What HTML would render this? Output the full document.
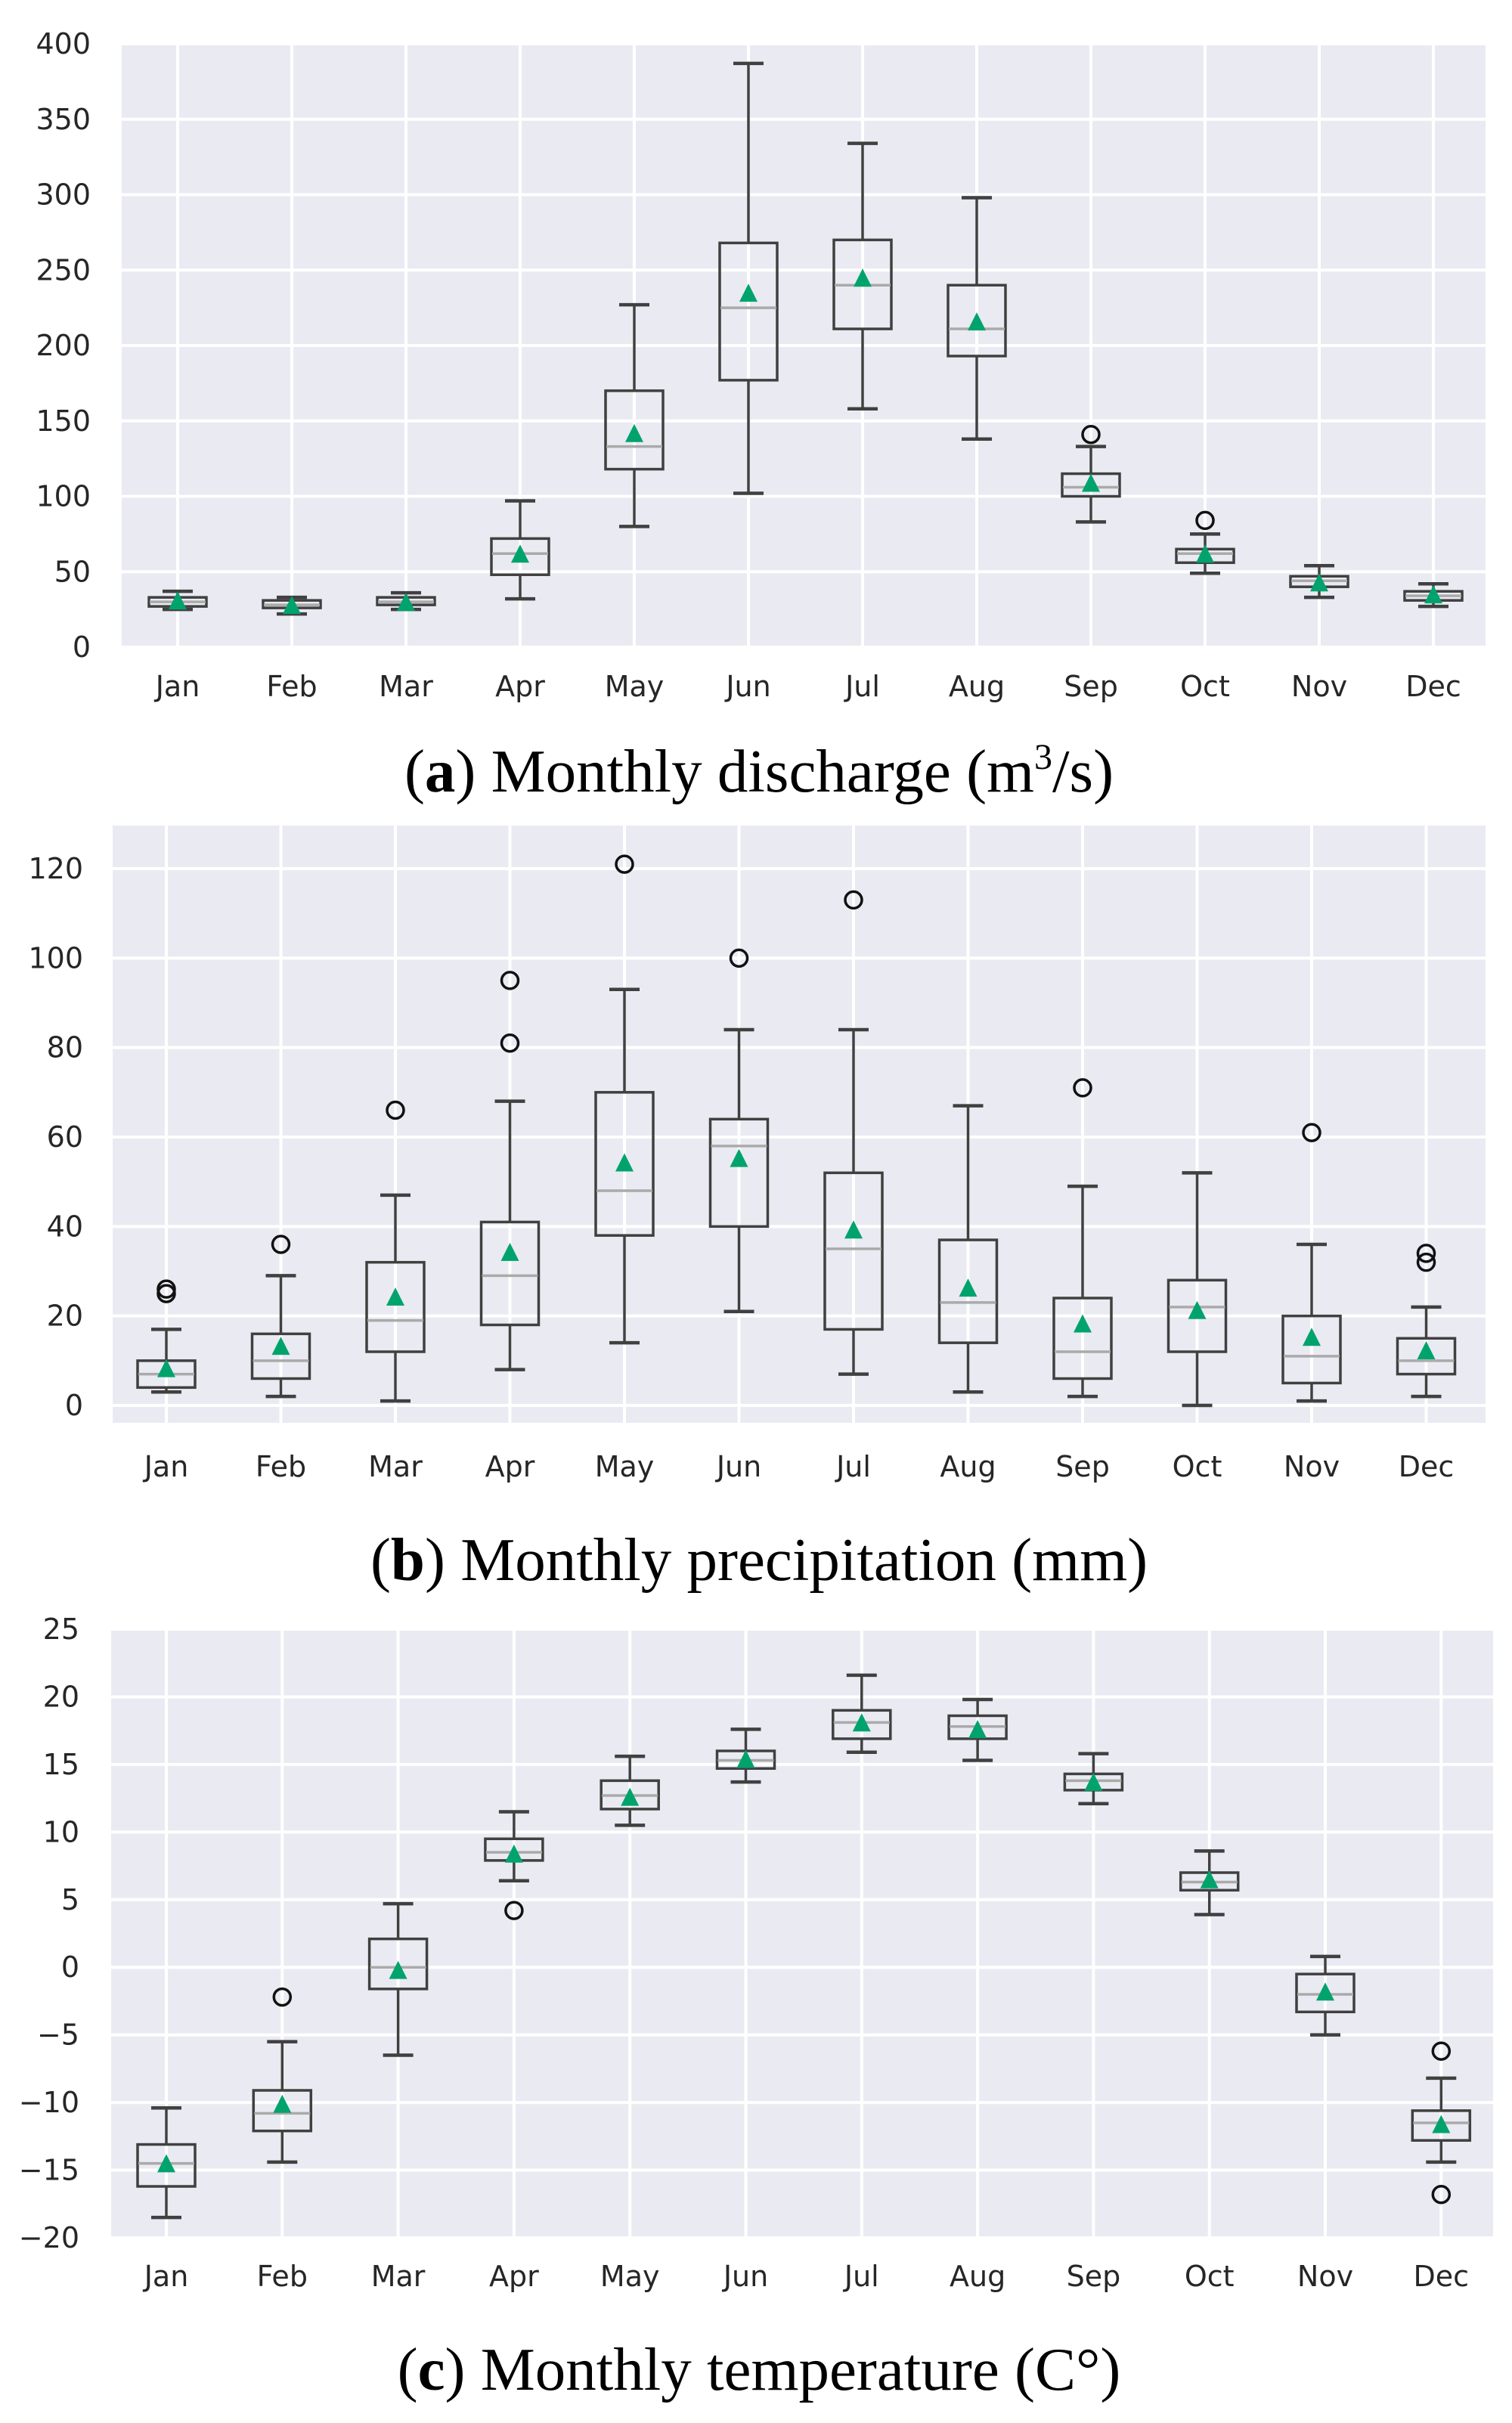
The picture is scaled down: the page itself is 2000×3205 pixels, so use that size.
<!DOCTYPE html>
<html><head><meta charset="utf-8">
<style>
html,body{margin:0;padding:0;background:#fff;}
svg{display:block;}
.t{font-family:"DejaVu Sans","Liberation Sans",sans-serif;font-size:38px;fill:#262626;}
.cap{font-family:"Liberation Serif",serif;font-size:81px;fill:#000;}
</style></head>
<body>
<svg id="s" width="2000" height="3205" xmlns="http://www.w3.org/2000/svg"></svg>
<script>
const M=["Jan","Feb","Mar","Apr","May","Jun","Jul","Aug","Sep","Oct","Nov","Dec"];
const panels=[
{L:161,R:1965,T:58,B:856,v0:0,v1:400,step:50,x0:235,dx:151,xl:921,lx:120,cap:["a",") Monthly discharge (m","3","/s)"],cy:1047,
data:[[25,27,30,33,37,30,[]],[22,26,28,31,33,27,[]],[25,28,30,33,36,29,[]],[32,48,62,72,97,61,[]],[80,118,133,170,227,141,[]],[102,177,225,268,387,234,[]],[158,211,240,270,334,244,[]],[138,193,211,240,298,215,[]],[83,100,106,115,133,108,[141]],[49,56,62,65,75,61,[84]],[33,40,44,47,54,42,[]],[27,31,34,37,42,34,[]]]},
{L:149,R:1965,T:1092,B:1882,v0:0,v1:120,step:20,yb:1859,yt:1149,x0:220,dx:151.5,xl:1953,lx:110,cap:["b",") Monthly precipitation (mm)"],cy:2090,
data:[[3,4,7,10,17,8,[25,26]],[2,6,10,16,29,13,[36]],[1,12,19,32,47,24,[66]],[8,18,29,41,68,34,[81,95]],[14,38,48,70,93,54,[121]],[21,40,58,64,84,55,[100]],[7,17,35,52,84,39,[113]],[3,14,23,37,67,26,[]],[2,6,12,24,49,18,[71]],[0,12,22,28,52,21,[]],[1,5,11,20,36,15,[61]],[2,7,10,15,22,12,[32,34]]]},
{L:147,R:1975,T:2155,B:2960,v0:-20,v1:25,step:5,x0:220,dx:153.3,xl:3024,lx:105,cap:["c",") Monthly temperature (C°)"],cy:3161,
data:[[-18.5,-16.2,-14.5,-13.1,-10.4,-14.6,[]],[-14.4,-12.1,-10.8,-9.1,-5.5,-10.2,[-2.2]],[-6.5,-1.6,0,2.1,4.7,-0.3,[]],[6.4,7.9,8.5,9.5,11.5,8.3,[4.2]],[10.5,11.7,12.7,13.8,15.6,12.5,[]],[13.7,14.7,15.3,16.0,17.6,15.3,[]],[15.9,16.9,18.1,19.0,21.6,18.0,[]],[15.3,16.9,17.8,18.6,19.8,17.5,[]],[12.1,13.1,13.8,14.3,15.8,13.6,[]],[3.9,5.7,6.3,7.0,8.6,6.4,[]],[-5,-3.3,-2,-0.5,0.8,-1.9,[]],[-14.4,-12.8,-11.5,-10.6,-8.2,-11.7,[-6.2,-16.8]]]}
];
let h="";
for(const p of panels){
  const yb=p.yb??p.B, yt=p.yt??p.T;
  const Y=v=>yb-(v-p.v0)/(p.v1-p.v0)*(yb-yt);
  h+=`<rect x="${p.L}" y="${p.T}" width="${p.R-p.L}" height="${p.B-p.T}" fill="#eaeaf2"/>`;
  for(let v=p.v0;v<=p.v1+1e-9;v+=p.step){
    const y=Y(v);
    h+=`<line x1="${p.L}" x2="${p.R}" y1="${y}" y2="${y}" stroke="#fff" stroke-width="4"/>`;
    h+=`<text class="t" x="${p.lx}" y="${y+13}" text-anchor="end">${v<0?"\u2212"+(-v):v}</text>`;
  }
  M.forEach((m,i)=>{
    const x=p.x0+i*p.dx;
    h+=`<line x1="${x}" x2="${x}" y1="${p.T}" y2="${p.B}" stroke="#fff" stroke-width="4"/>`;
    h+=`<text class="t" x="${x}" y="${p.xl}" text-anchor="middle">${m}</text>`;
  });
  p.data.forEach((d,i)=>{
    const x=p.x0+i*p.dx,[wl,q1,md,q3,wh,mn,out]=d,c="#404040";
    h+=`<line x1="${x}" x2="${x}" y1="${Y(wh)}" y2="${Y(q3)}" stroke="${c}" stroke-width="3.5"/>`;
    h+=`<line x1="${x}" x2="${x}" y1="${Y(q1)}" y2="${Y(wl)}" stroke="${c}" stroke-width="3.5"/>`;
    h+=`<line x1="${x-20}" x2="${x+20}" y1="${Y(wh)}" y2="${Y(wh)}" stroke="${c}" stroke-width="4.5"/>`;
    h+=`<line x1="${x-20}" x2="${x+20}" y1="${Y(wl)}" y2="${Y(wl)}" stroke="${c}" stroke-width="4.5"/>`;
    h+=`<rect x="${x-38}" y="${Y(q3)}" width="76" height="${Math.max(Y(q1)-Y(q3),4)}" fill="none" stroke="${c}" stroke-width="3.5"/>`;
    h+=`<line x1="${x-37}" x2="${x+37}" y1="${Y(md)}" y2="${Y(md)}" stroke="#aaaaaa" stroke-width="3.5"/>`;
    for(const o of out) h+=`<circle cx="${x}" cy="${Y(o)}" r="11" fill="none" stroke="#111" stroke-width="3.5"/>`;
    const ym=Y(mn);
    h+=`<polygon points="${x},${ym-14} ${x-12},${ym+10} ${x+12},${ym+10}" fill="#00a36c"/>`;
  });
  const c=p.cap;
  h+=`<text class="cap" x="1004" y="${p.cy}" text-anchor="middle">(<tspan font-weight="bold">${c[0]}</tspan>${c[1]}${c[2]?`<tspan font-size="48" dy="-30">${c[2]}</tspan><tspan dy="30">${c[3]}</tspan>`:""}</text>`;
}
document.getElementById("s").innerHTML=h;
</script>
</body></html>
